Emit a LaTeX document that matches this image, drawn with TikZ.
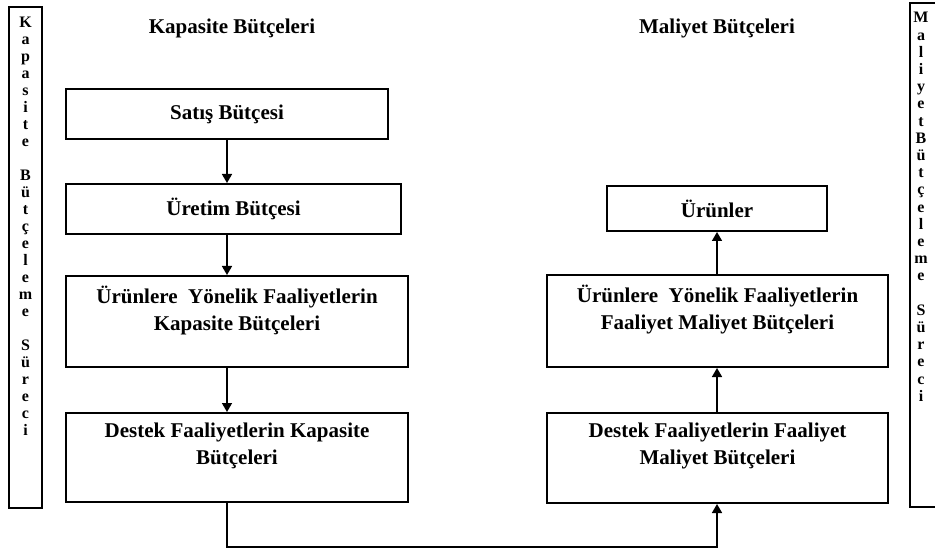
\documentclass[tikz,border=0pt]{standalone}
\usepackage{fontspec}
\setmainfont{Liberation Serif}
\usetikzlibrary{
    arrows.meta,
    calc,
    positioning
}
\newcommand{\kutuyazi}[3]{\parbox[c][#2][t]{#1}{\centering\vspace*{5pt}#3}}

\begin{document}
\begin{tikzpicture}[x=0.5pt, y=-0.5pt,
    kutu/.style={draw, line width=1pt, inner sep=0pt, font=\fontsize{10.5}{13.5}\selectfont\bfseries},
    baslik/.style={inner sep=0pt, font=\fontsize{10.5}{13.5}\selectfont\bfseries},
    harf/.style={align=center, inner sep=0pt, anchor=north},
    ok/.style={line width=0.8pt, -{Triangle[length=4.5pt,width=5pt]}}]
                                \useasboundingbox (0,0) rectangle (935,550);
                                \clip (0,0) rectangle (935,550);
                                % basliklar
                                \node[baslik] (kapbaslik) at (232,28) {Kapasite Bütçeleri};
                                \node[baslik] (malbaslik) at (717,28) {Maliyet Bütçeleri};
                                % sol sutun
                                \node[kutu, minimum width=161pt, minimum height=25pt] (satis) at (227,114) {Satış Bütçesi};
                                \node[kutu, minimum width=167.5pt, minimum height=25pt] (uretim) at (233.5,209) {Üretim Bütçesi};
                                \node[kutu] (urunkap) at (237,321.5) {\kutuyazi{171pt}{45.5pt}{Ürünlere\ \ Yönelik Faaliyetlerin\\Kapasite Bütçeleri}};
                                \node[kutu] (destekkap) at (237,457.5) {\kutuyazi{171pt}{44.5pt}{Destek Faaliyetlerin Kapasite\\Bütçeleri}};
                                % sag sutun
                                \node[kutu, minimum width=110pt, minimum height=22.5pt] (urunler) at (717,208.5) {Ürünler};
                                \node[kutu] (urunmal) at (717.5,321) {\kutuyazi{170.5pt}{46pt}{Ürünlere\ \ Yönelik Faaliyetlerin\\Faaliyet Maliyet Bütçeleri}};
                                \node[kutu] (destekmal) at (717.5,458) {\kutuyazi{170.5pt}{45pt}{Destek Faaliyetlerin Faaliyet\\Maliyet Bütçeleri}};
                                % dikey yazilar
                                \draw[line width=1pt] (9,7) rectangle (42,508);
                                \node[harf, font=\fontsize{8}{8.5}\selectfont\bfseries] (kapdikey) at (25.5,17)
                                {K\\a\\p\\a\\s\\i\\t\\e\\~\\B\\ü\\t\\ç\\e\\l\\e\\m\\e\\~\\S\\ü\\r\\e\\c\\i};
                                \draw[line width=1pt] (910,3) rectangle (960,507);
                                \node[harf, font=\fontsize{8}{8.6}\selectfont\bfseries] (maldikey) at (921,12)
                                {M\\a\\l\\i\\y\\e\\t\\B\\ü\\t\\ç\\e\\l\\e\\m\\e\\~\\S\\ü\\r\\e\\c\\i};
                                % oklar
                                \draw[ok] (satis) -- (uretim.north -| satis);
                                \draw[ok] (uretim.south -| satis) -- (urunkap.north -| satis);
                                \draw[ok] (urunkap.south -| satis) -- (destekkap.north -| satis);
                                \draw[ok] (destekkap.south -| satis) -- ++(0,44) -| (destekmal.south -| urunler);
                                \draw[ok] (destekmal.north -| urunler) -- (urunmal.south -| urunler);
                                \draw[ok] (urunmal.north -| urunler) -- (urunler);
                            \end{tikzpicture}
\end{document}
